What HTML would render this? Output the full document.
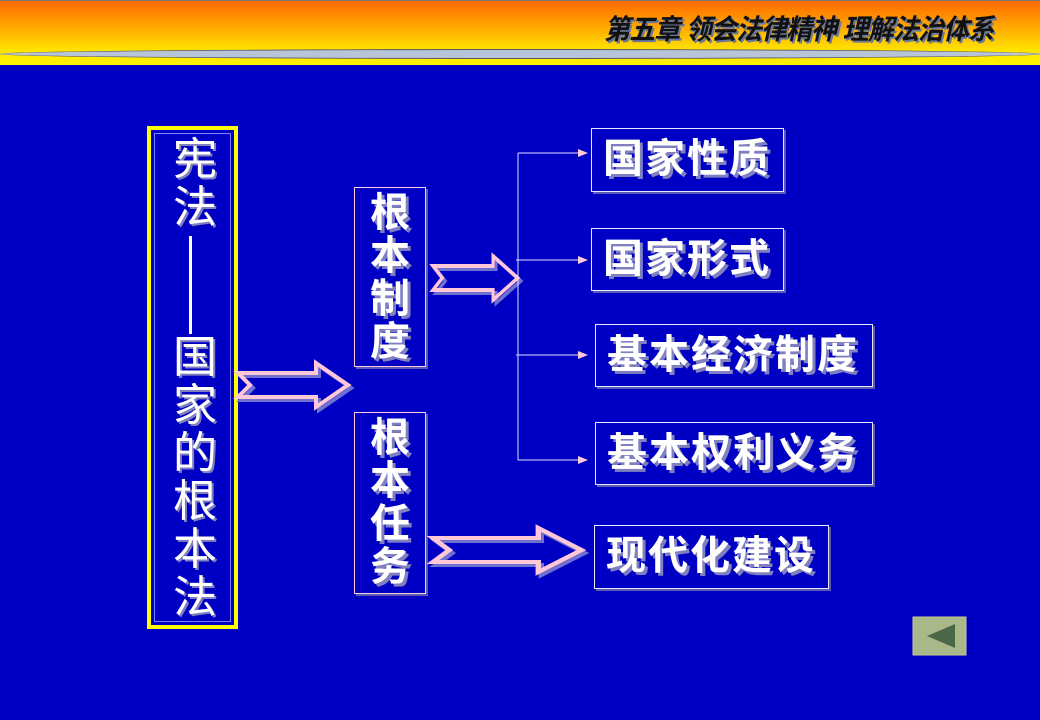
<!DOCTYPE html>
<html><head><meta charset="utf-8"><style>
body{margin:0;width:1040px;height:720px;overflow:hidden;background:#0000c4;position:relative;font-family:"Liberation Sans","Noto Sans CJK SC",sans-serif}
.hdr{position:absolute;left:0;top:0;width:1040px;height:64px;background:linear-gradient(#ff6a00,#ffa800 40%,#ffe800 80%,#fff000);border-top:1px solid #777}
.ell{position:absolute;left:0;top:49px;width:1040px;height:8px;border-radius:50%;background:#b8c4d8;border:1px solid #556}
.title{position:absolute;left:604px;top:8px;font-size:28px;font-weight:bold;font-style:italic;color:#111;text-shadow:2px 2px 0 #6a7a9a;letter-spacing:-1px;transform:scaleX(0.93);transform-origin:left}
.box{position:absolute;border:1px solid #e8e8ff;box-shadow:2px 2px 0 #5a5ab0;color:#fff;font-weight:bold;text-shadow:3px 3px 0 #8080c0}
.big{font-size:40px;line-height:60px;padding-left:11px;letter-spacing:2px}
.v{font-size:40px;line-height:43px;text-align:center;border-color:#ffc8e0}
.left{position:absolute;left:147px;top:126px;width:83px;height:495px;border:4px solid #ffff00;}
.lt{position:absolute;left:20px;color:#fff;font-size:44px;line-height:48px;text-shadow:2px 2px 0 #8080c0;width:48px;text-align:center}
</style></head><body>
<div class="hdr"></div><div class="ell"></div>
<div class="title">第五章 领会法律精神 理解法治体系</div>
<div class="left">
<div style="position:absolute;left:3px;top:3px;right:3px;bottom:3px;border:1px solid #8080ff"></div>
<div class="lt" style="top:6px">宪<br>法</div>
<div style="position:absolute;left:38px;top:106px;width:3px;height:98px;background:#fff"></div>
<div class="lt" style="top:204px">国<br>家<br>的<br>根<br>本<br>法</div>
</div>
<div class="box v" style="left:354px;top:187px;width:72px;height:180px;padding-top:4px;box-sizing:border-box">根<br>本<br>制<br>度</div>
<div class="box v" style="left:354px;top:412px;width:72px;height:182px;padding-top:4px;box-sizing:border-box">根<br>本<br>任<br>务</div>
<div class="box big" style="left:591px;top:128px;width:180px;height:62px">国家性质</div>
<div class="box big" style="left:591px;top:228px;width:180px;height:61px">国家形式</div>
<div class="box big" style="left:595px;top:324px;width:265px;height:61px">基本经济制度</div>
<div class="box big" style="left:595px;top:422px;width:265px;height:61px">基本权利义务</div>
<div class="box big" style="left:594px;top:525px;width:222px;height:62px">现代化建设</div>
<svg width="1040" height="720" style="position:absolute;left:0;top:0">
<defs><g id="fa"><path d="M0,10 L78,10 L78,0 L110,22 L78,44 L78,34 L0,34 L12,22 Z" fill="none" stroke-width="4"/></g></defs>
<g stroke="#7070d0" transform="translate(241,366)"><use href="#fa"/></g>
<g stroke="#ffc8d8" transform="translate(238,363)"><use href="#fa"/></g>
<g stroke="#7070d0" transform="translate(436,259) scale(0.77,1)"><use href="#fa"/></g>
<g stroke="#ffc8d8" transform="translate(433,256) scale(0.77,1)"><use href="#fa"/></g>
<g stroke="#7070d0" transform="translate(436,531) scale(1.35,1)"><use href="#fa"/></g>
<g stroke="#ffc8d8" transform="translate(433,528) scale(1.35,1)"><use href="#fa"/></g>
<g stroke="#e0e0ff" stroke-width="1" fill="none">
<path d="M518,153 L518,460"/>
<path d="M518,153 H580 M516,260 H580 M516,355 H580 M518,460 H580"/>
</g>
<g fill="#ffc8d8">
<path d="M578,149 L588,153 L578,157Z"/><path d="M578,256 L588,260 L578,264Z"/>
<path d="M578,351 L588,355 L578,359Z"/><path d="M578,456 L588,460 L578,464Z"/>
</g>
<rect x="913" y="617" width="53" height="38" fill="#a8b888" stroke="#c8c890"/>
<path d="M927,636 L955,624 L955,648Z" fill="#4a6848"/>
</svg>
</body></html>
